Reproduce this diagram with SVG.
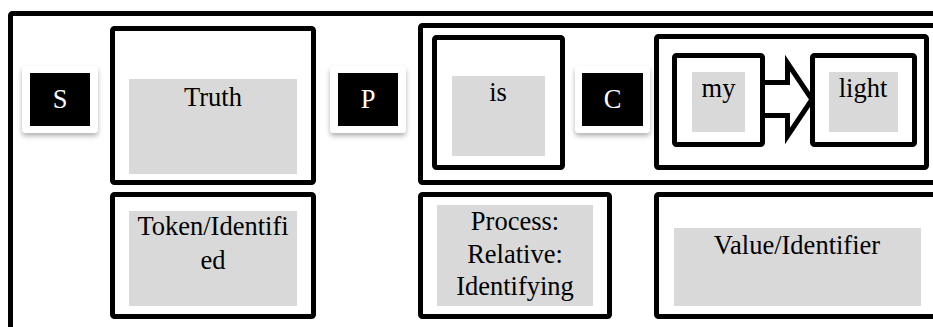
<svg xmlns="http://www.w3.org/2000/svg" width="933" height="327" viewBox="0 0 933 327">
  <style>
    .frame { fill: none; stroke: #000; stroke-width: 5; }
    .box { fill: #fff; stroke: #000; stroke-width: 5; }
    .fill { fill: #d9d9d9; }
    .txt { font-family: "Liberation Serif", "Times New Roman", serif; font-size: 26.5px; fill: #000; text-anchor: middle; }
    .tag { fill: #fff; }
    .tagbg { fill: #000; }
    .tagtxt { font-family: "Liberation Serif", "Times New Roman", serif; font-size: 26.5px; fill: #fff; text-anchor: middle; }
    .arrow { fill: #fff; stroke: #000; stroke-width: 5; stroke-linejoin: miter; }
  </style>
  <defs>
    <filter id="shadow" x="-20%" y="-20%" width="140%" height="150%">
      <feDropShadow dx="0" dy="3" stdDeviation="2.5" flood-color="#000" flood-opacity="0.3"/>
    </filter>
  </defs>

  <rect width="933" height="327" fill="#fff"/>

  <!-- outer clause frame, open to the right and bottom -->
  <g id="frame">
    <rect class="frame" x="10.5" y="13.5" width="1000" height="400" rx="2"/>
  </g>

  <!-- Subject tag -->
  <g id="tag-s">
    <rect class="tag" x="22" y="66" width="76" height="67" rx="4" filter="url(#shadow)"/>
    <rect class="tagbg" x="30" y="73" width="60" height="53"/>
    <text class="tagtxt" x="60" y="108">S</text>
  </g>

  <!-- Subject: Truth -->
  <g id="node-truth">
    <rect class="box" x="112.5" y="28.5" width="201" height="154" rx="2"/>
    <rect class="fill" x="129" y="79" width="168" height="95"/>
    <text class="txt" x="213" y="106">Truth</text>
  </g>

  <!-- Token/Identified -->
  <g id="node-token">
    <rect class="box" x="112.5" y="194.5" width="201" height="122" rx="2"/>
    <rect class="fill" x="129" y="211" width="168" height="95"/>
    <text class="txt" x="213" y="235">Token/Identifi</text>
    <text class="txt" x="213" y="269">ed</text>
  </g>

  <!-- Predicate tag -->
  <g id="tag-p">
    <rect class="tag" x="330" y="66" width="76" height="67" rx="4" filter="url(#shadow)"/>
    <rect class="tagbg" x="338" y="73" width="60" height="53"/>
    <text class="tagtxt" x="368" y="108">P</text>
  </g>

  <!-- Predicate group -->
  <g id="node-predicate">
    <rect class="box" x="420.5" y="25.5" width="600" height="157" rx="2"/>
  </g>

  <!-- Verb: is -->
  <g id="node-is">
    <rect class="box" x="434.5" y="37.5" width="128" height="130" rx="2"/>
    <rect class="fill" x="452" y="76" width="93" height="80"/>
    <text class="txt" x="498" y="101">is</text>
  </g>

  <!-- Complement tag -->
  <g id="tag-c">
    <rect class="tag" x="575" y="66" width="75" height="67" rx="4" filter="url(#shadow)"/>
    <rect class="tagbg" x="582" y="73" width="61" height="53"/>
    <text class="tagtxt" x="612.5" y="108">C</text>
  </g>

  <!-- Complement group -->
  <g id="node-complement">
    <rect class="box" x="656.5" y="36.5" width="270" height="131" rx="2"/>
  </g>

  <!-- connectors -->
  <g id="connectors">
    <polygon class="arrow" points="762,82.5 787.5,82.5 787.5,63 812,99.5 787.5,136 787.5,115.5 762,115.5"/>
  </g>

  <!-- my -->
  <g id="node-my">
    <rect class="box" x="674.5" y="55.5" width="88" height="89" rx="2"/>
    <rect class="fill" x="692" y="72" width="53" height="60"/>
    <text class="txt" x="718.5" y="97">my</text>
  </g>

  <!-- light -->
  <g id="node-light">
    <rect class="box" x="812.5" y="55.5" width="102" height="89" rx="2"/>
    <rect class="fill" x="829" y="72" width="69" height="60"/>
    <text class="txt" x="863" y="97">light</text>
  </g>

  <!-- Process: Relative: Identifying -->
  <g id="node-process">
    <rect class="box" x="420.5" y="194.5" width="189" height="122" rx="2"/>
    <rect class="fill" x="437" y="205" width="156" height="101"/>
    <text class="txt" x="515" y="230">Process:</text>
    <text class="txt" x="515" y="263">Relative:</text>
    <text class="txt" x="515" y="295">Identifying</text>
  </g>

  <!-- Value/Identifier -->
  <g id="node-value">
    <rect class="box" x="656.5" y="194.5" width="400" height="122" rx="2"/>
    <rect class="fill" x="674" y="228" width="247" height="78"/>
    <text class="txt" x="797" y="254">Value/Identifier</text>
  </g>
</svg>
